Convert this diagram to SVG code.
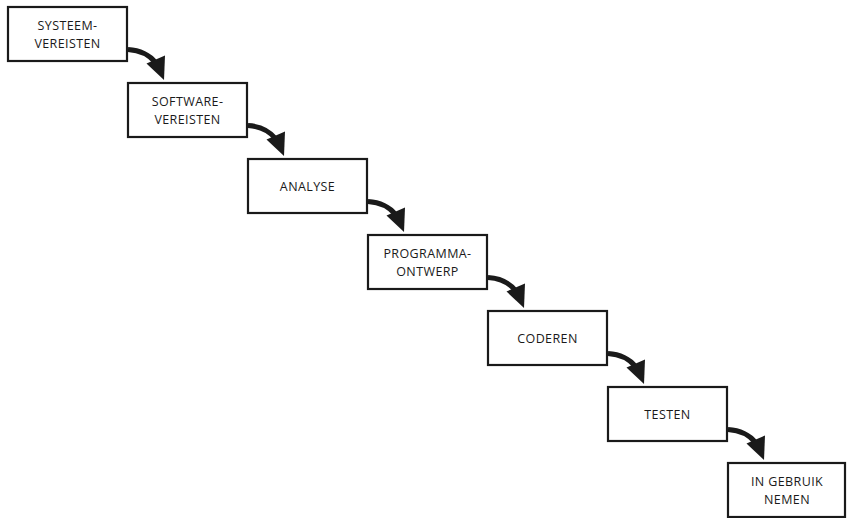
<svg xmlns="http://www.w3.org/2000/svg" xmlns:xlink="http://www.w3.org/1999/xlink" width="847" height="518" viewBox="0 0 847 518">
<style>
.box{fill:#fff;stroke:#1a1a1a;stroke-width:2.2}
.lbl{font-family:"Open Sans","Noto Sans",sans-serif;font-size:12.5px;fill:#1a1a1a;text-anchor:middle;letter-spacing:0.4px}
.shaft{fill:none;stroke:#1a1a1a;stroke-width:5}
.head{fill:#1a1a1a}
</style>
<defs>
<g id="arr">
<path class="shaft" d="M128,49.5 Q146,50.5 156,63"/>
<polygon class="head" points="146.5,63.5 165,55.5 164,80"/>
</g>
</defs>
<rect width="847" height="518" fill="#fff"/>
<g id="connectors">
<use xlink:href="#arr"/>
<use xlink:href="#arr" transform="translate(120,76)"/>
<use xlink:href="#arr" transform="translate(240,152)"/>
<use xlink:href="#arr" transform="translate(360,228)"/>
<use xlink:href="#arr" transform="translate(480,304)"/>
<use xlink:href="#arr" transform="translate(600,380)"/>
</g>
<g id="n1"><rect class="box" x="8" y="7" width="119" height="54"/><text class="lbl" x="67.5" y="30">SYSTEEM-</text><text class="lbl" x="67.5" y="48">VEREISTEN</text></g>
<g id="n2"><rect class="box" x="128" y="83" width="119" height="54"/><text class="lbl" x="187.5" y="106">SOFTWARE-</text><text class="lbl" x="187.5" y="124">VEREISTEN</text></g>
<g id="n3"><rect class="box" x="248" y="159" width="119" height="54"/><text class="lbl" x="307.5" y="190.5">ANALYSE</text></g>
<g id="n4"><rect class="box" x="368" y="235" width="119" height="54"/><text class="lbl" x="427.5" y="258">PROGRAMMA-</text><text class="lbl" x="427.5" y="276">ONTWERP</text></g>
<g id="n5"><rect class="box" x="488" y="311" width="119" height="54"/><text class="lbl" x="547.5" y="342.5">CODEREN</text></g>
<g id="n6"><rect class="box" x="608" y="387" width="119" height="54"/><text class="lbl" x="667.5" y="418.5">TESTEN</text></g>
<g id="n7"><rect class="box" x="728" y="463" width="117" height="54"/><text class="lbl" x="787" y="486">IN GEBRUIK</text><text class="lbl" x="787" y="504">NEMEN</text></g>
</svg>
